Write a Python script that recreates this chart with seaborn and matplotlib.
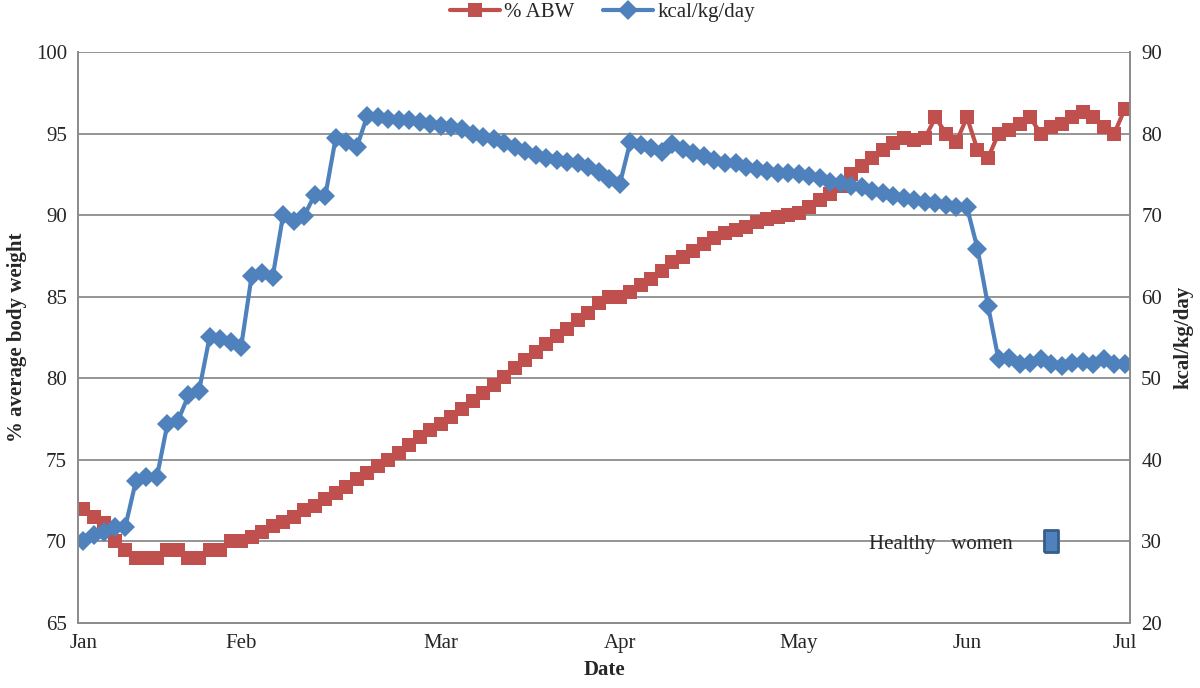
import numpy as np
import pandas as pd
import seaborn as sns
import matplotlib.pyplot as plt

# % of average body weight (left axis), one value per observation
abw = [72.0, 71.5, 71.1, 70.0, 69.5, 69.0, 69.0, 69.0, 69.5, 69.5,
       69.0, 69.0, 69.5, 69.5, 70.0, 70.0, 70.3, 70.6, 70.95, 71.2,
       71.5, 71.9, 72.2, 72.6, 72.95, 73.35, 73.8, 74.2, 74.6, 75.0,
       75.4, 75.9, 76.4, 76.8, 77.2, 77.6, 78.1, 78.6, 79.1, 79.6,
       80.1, 80.6, 81.1, 81.6, 82.1, 82.6, 83.0, 83.6, 84.0, 84.6,
       85.0, 85.0, 85.3, 85.7, 86.1, 86.6, 87.1, 87.45, 87.8, 88.2,
       88.6, 88.9, 89.1, 89.3, 89.55, 89.75, 89.9, 90.0, 90.1, 90.5,
       90.9, 91.3, 91.8, 92.5, 93.0, 93.5, 94.0, 94.4, 94.7, 94.6,
       94.7, 96.0, 95.0, 94.5, 96.0, 94.0, 93.5, 95.0, 95.2, 95.6,
       96.0, 95.0, 95.4, 95.6, 96.0, 96.3, 96.0, 95.4, 95.0, 96.5]

# energy intake, kcal/kg/day (right axis)
kcal = [30.0, 30.8, 31.2, 31.8, 31.8, 37.4, 37.9, 37.9, 44.4, 44.8,
        47.9, 48.4, 55.0, 54.8, 54.4, 53.8, 62.5, 62.9, 62.4, 70.0,
        69.3, 69.9, 72.5, 72.3, 79.5, 78.9, 78.3, 82.2, 82.0, 81.8,
        81.7, 81.6, 81.4, 81.2, 80.9, 80.8, 80.5, 79.9, 79.6, 79.3,
        78.8, 78.3, 77.8, 77.4, 77.0, 76.7, 76.55, 76.4, 75.95, 75.3,
        74.4, 73.8, 79.0, 78.6, 78.2, 77.7, 78.7, 78.1, 77.6, 77.2,
        76.8, 76.35, 76.35, 75.95, 75.6, 75.45, 75.2, 75.1, 75.0, 74.8,
        74.5, 74.1, 73.9, 73.6, 73.4, 72.9, 72.7, 72.35, 72.1, 71.9,
        71.65, 71.45, 71.25, 71.0, 70.96, 65.9, 58.9, 52.3, 52.45, 51.8,
        51.9, 52.3, 51.8, 51.5, 51.9, 52.0, 51.8, 52.3, 51.8, 51.8]

month_labels = ["Jan", "Feb", "Mar", "Apr", "May", "Jun", "Jul"]
month_pos = [0, 15, 34, 51, 68, 84, 99]

healthy_label = "Healthy   women"
healthy_pos = 92
healthy_kcal = 30

red = "#C0504D"
blue = "#4F81BD"
grid = "#8C8C8C"

df = pd.DataFrame({"obs": np.arange(len(abw)), "abw": abw, "kcal": kcal})

sns.set_style("white")
plt.rcParams["font.family"] = ["Liberation Serif", "DejaVu Serif"]

fig = plt.figure(figsize=(12, 6.88), dpi=100)
ax = fig.add_axes([0.065, 0.0945, 0.8767, 0.830])
ax2 = ax.twinx()

sns.lineplot(data=df, x="obs", y="abw", ax=ax, color=red, marker="s",
             markersize=10, markeredgewidth=0, linewidth=3, label="% ABW", legend=False)
sns.lineplot(data=df, x="obs", y="kcal", ax=ax2, color=blue, marker="D",
             markersize=10.5, markeredgewidth=0, linewidth=3, label="kcal/kg/day", legend=False)

# healthy women reference marker
rect = [(-0.6, -1), (0.6, -1), (0.6, 1), (-0.6, 1), (-0.6, -1)]
ax2.scatter([healthy_pos], [healthy_kcal], marker=rect, s=260, color=blue,
            edgecolor="#385D8A", linewidth=2, zorder=5)
ax2.text(healthy_pos - 10.5, healthy_kcal - 0.4, healthy_label, ha="center", va="center", fontsize=15)

ax.set_xlim(-0.5, 99.5)
ax.set_ylim(65, 100)
ax2.set_ylim(20, 90)
ax.set_yticks(range(65, 101, 5))
ax2.set_yticks(range(20, 91, 10))
ax.set_xticks(month_pos)
ax.set_xticklabels(month_labels)

ax.grid(axis="y", color=grid, linewidth=1.3)
ax.set_axisbelow(True)
for a in (ax, ax2):
    a.spines["top"].set_visible(False)
    for s in ("left", "right", "bottom"):
        a.spines[s].set_color(grid)
        a.spines[s].set_linewidth(1.3)
    a.tick_params(length=0, labelsize=15, pad=8)

ax.set_xlabel("Date", fontsize=15, fontweight="bold", labelpad=5)
ax.set_ylabel("% average body weight", fontsize=15, fontweight="bold", labelpad=6)
ax2.set_ylabel("kcal/kg/day", fontsize=15, fontweight="bold", labelpad=8)

h1, l1 = ax.get_legend_handles_labels()
h2, l2 = ax2.get_legend_handles_labels()
fig.legend(h1 + h2, l1 + l2, loc="center", bbox_to_anchor=(0.502, 0.982), ncol=2,
           frameon=False, fontsize=15, handlelength=2.4, columnspacing=1.4, handletextpad=0.2)

fig.savefig("out.png", dpi=100)
